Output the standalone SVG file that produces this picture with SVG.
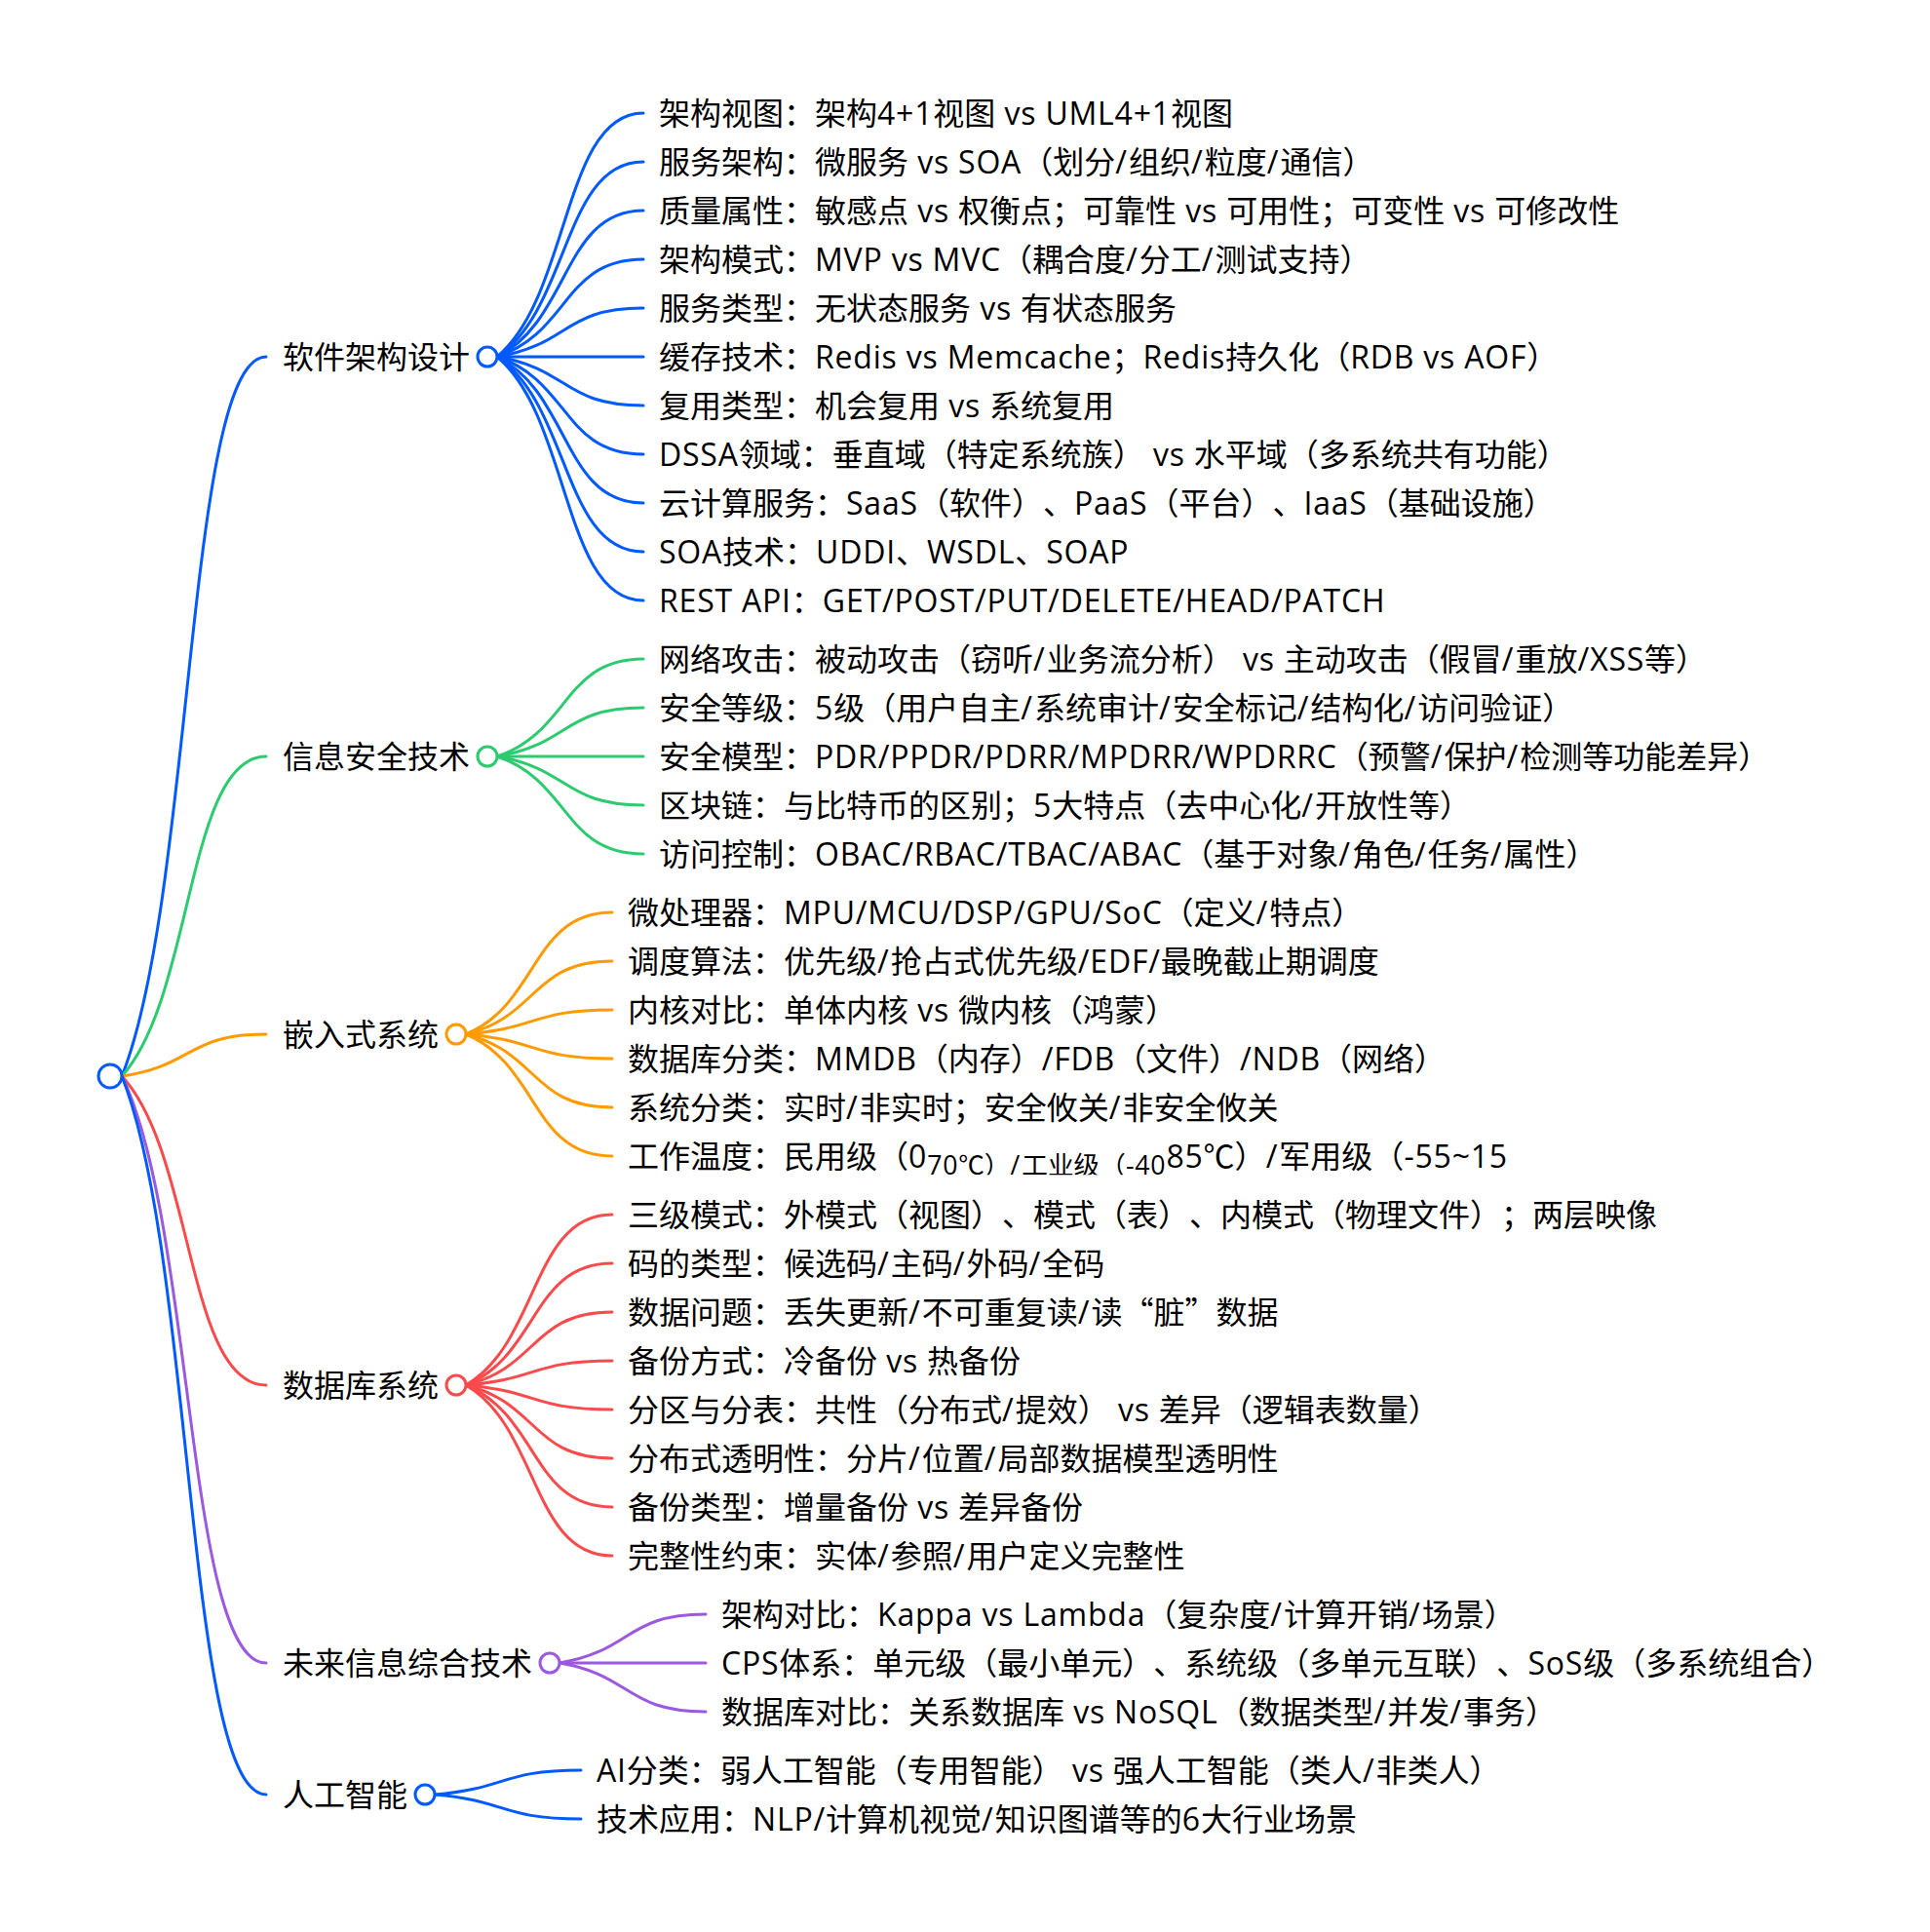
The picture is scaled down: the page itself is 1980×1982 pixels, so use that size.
<svg xmlns="http://www.w3.org/2000/svg" width="1980" height="1982" viewBox="0 0 1980 1982">
<style>
  .t { font-family: 'Open Sans', 'Noto Sans CJK SC', sans-serif; font-size: 32px; fill: #000; text-spacing-trim: space-all; }
  .e { letter-spacing: 0.8px; }
  .s { letter-spacing: 2px; }
  .q { font-family: 'Noto Sans CJK SC', sans-serif; font-feature-settings: 'fwid' 1; }
  .l { fill: none; stroke-width: 3; stroke-linecap: round; }
  .c { fill: #fff; stroke-width: 3; }
  .blue { stroke: #005AFF; }
  .green { stroke: #2DCB70; }
  .orange { stroke: #FF9A00; }
  .red { stroke: #F94A4C; }
  .purple { stroke: #9B59E0; }
</style>
<defs>
  <clipPath id="clipTemp"><rect x="600" y="1150" width="1100" height="55.2"/></clipPath>
</defs>
<rect width="1980" height="1982" fill="#fff"/>

<g id="connectors">
  <path class="l blue" d="M125 1104 C199 919.5 191.6 366 273 366"/>
  <path class="l green" d="M125 1104 C199 1022 191.6 776 273 776"/>
  <path class="l orange" d="M125 1104 C199 1093.3 191.6 1061 273 1061"/>
  <path class="l red" d="M125 1104 C199 1183.3 191.6 1421 273 1421"/>
  <path class="l purple" d="M125 1104 C199 1254.5 191.6 1706 273 1706"/>
  <path class="l blue" d="M125 1104 C199 1288.3 191.6 1841 273 1841"/>
  <path class="l blue" d="M510 366 C585 303.5 577.5 116 660 116"/>
  <path class="l blue" d="M510 366 C585 316 577.5 166 660 166"/>
  <path class="l blue" d="M510 366 C585 328.5 577.5 216 660 216"/>
  <path class="l blue" d="M510 366 C585 341 577.5 266 660 266"/>
  <path class="l blue" d="M510 366 C585 353.5 577.5 316 660 316"/>
  <path class="l blue" d="M510 366 L660 366"/>
  <path class="l blue" d="M510 366 C585 378.5 577.5 416 660 416"/>
  <path class="l blue" d="M510 366 C585 391 577.5 466 660 466"/>
  <path class="l blue" d="M510 366 C585 403.5 577.5 516 660 516"/>
  <path class="l blue" d="M510 366 C585 416 577.5 566 660 566"/>
  <path class="l blue" d="M510 366 C585 428.5 577.5 616 660 616"/>
  <path class="l green" d="M510 776 C585 751 577.5 676 660 676"/>
  <path class="l green" d="M510 776 C585 763.5 577.5 726 660 726"/>
  <path class="l green" d="M510 776 L660 776"/>
  <path class="l green" d="M510 776 C585 788.5 577.5 826 660 826"/>
  <path class="l green" d="M510 776 C585 801 577.5 876 660 876"/>
  <path class="l orange" d="M478 1061 C553 1029.8 545.5 936 628 936"/>
  <path class="l orange" d="M478 1061 C553 1042.3 545.5 986 628 986"/>
  <path class="l orange" d="M478 1061 C553 1054.8 545.5 1036 628 1036"/>
  <path class="l orange" d="M478 1061 C553 1067.3 545.5 1086 628 1086"/>
  <path class="l orange" d="M478 1061 C553 1079.8 545.5 1136 628 1136"/>
  <path class="l orange" d="M478 1061 C553 1092.3 545.5 1186 628 1186"/>
  <path class="l red" d="M478 1421 C553 1377.3 545.5 1246 628 1246"/>
  <path class="l red" d="M478 1421 C553 1389.8 545.5 1296 628 1296"/>
  <path class="l red" d="M478 1421 C553 1402.3 545.5 1346 628 1346"/>
  <path class="l red" d="M478 1421 C553 1414.8 545.5 1396 628 1396"/>
  <path class="l red" d="M478 1421 C553 1427.3 545.5 1446 628 1446"/>
  <path class="l red" d="M478 1421 C553 1439.8 545.5 1496 628 1496"/>
  <path class="l red" d="M478 1421 C553 1452.3 545.5 1546 628 1546"/>
  <path class="l red" d="M478 1421 C553 1464.8 545.5 1596 628 1596"/>
  <path class="l purple" d="M574 1706 C649 1693.5 641.5 1656 724 1656"/>
  <path class="l purple" d="M574 1706 L724 1706"/>
  <path class="l purple" d="M574 1706 C649 1718.5 641.5 1756 724 1756"/>
  <path class="l blue" d="M446 1841 C521 1834.8 513.5 1816 596 1816"/>
  <path class="l blue" d="M446 1841 C521 1847.3 513.5 1866 596 1866"/>
</g>

<g id="root"><circle class="c blue" cx="113" cy="1104" r="12"/></g>

<g id="n-software">
  <text class="t" x="290" y="377.5">软件架构设计</text>
  <circle class="c blue" cx="500" cy="366" r="10"/>
</g>
<g id="n-software-1"><text class="t" x="676" y="127.5">架构视图：架构<tspan class="e">4+1</tspan>视图<tspan class="e"> vs UML4+1</tspan>视图</text></g>
<g id="n-software-2"><text class="t" x="676" y="177.5">服务架构：微服务<tspan class="e"> vs SOA</tspan>（划分<tspan class="s">/</tspan>组织<tspan class="s">/</tspan>粒度<tspan class="s">/</tspan>通信）</text></g>
<g id="n-software-3"><text class="t" x="676" y="227.5">质量属性：敏感点<tspan class="e"> vs </tspan>权衡点；可靠性<tspan class="e"> vs </tspan>可用性；可变性<tspan class="e"> vs </tspan>可修改性</text></g>
<g id="n-software-4"><text class="t" x="676" y="277.5">架构模式：<tspan class="e">MVP vs MVC</tspan>（耦合度<tspan class="s">/</tspan>分工<tspan class="s">/</tspan>测试支持）</text></g>
<g id="n-software-5"><text class="t" x="676" y="327.5">服务类型：无状态服务<tspan class="e"> vs </tspan>有状态服务</text></g>
<g id="n-software-6"><text class="t" x="676" y="377.5">缓存技术：<tspan class="e">Redis vs Memcache</tspan>；<tspan class="e">Redis</tspan>持久化（<tspan class="e">RDB vs AOF</tspan>）</text></g>
<g id="n-software-7"><text class="t" x="676" y="427.5">复用类型：机会复用<tspan class="e"> vs </tspan>系统复用</text></g>
<g id="n-software-8"><text class="t" x="676" y="477.5"><tspan class="e">DSSA</tspan>领域：垂直域（特定系统族）<tspan class="e"> vs </tspan>水平域（多系统共有功能）</text></g>
<g id="n-software-9"><text class="t" x="676" y="527.5">云计算服务：<tspan class="e">SaaS</tspan>（软件）、<tspan class="e">PaaS</tspan>（平台）、<tspan class="e">IaaS</tspan>（基础设施）</text></g>
<g id="n-software-10"><text class="t" x="676" y="577.5"><tspan class="e">SOA</tspan>技术：<tspan class="e">UDDI</tspan>、<tspan class="e">WSDL</tspan>、<tspan class="e">SOAP</tspan></text></g>
<g id="n-software-11"><text class="t" x="676" y="627.5"><tspan class="e">REST API</tspan>：<tspan class="e">GET/POST/PUT/DELETE/HEAD/PATCH</tspan></text></g>

<g id="n-security">
  <text class="t" x="290" y="787.5">信息安全技术</text>
  <circle class="c green" cx="500" cy="776" r="10"/>
</g>
<g id="n-security-1"><text class="t" x="676" y="687.5">网络攻击：被动攻击（窃听<tspan class="s">/</tspan>业务流分析）<tspan class="e"> vs </tspan>主动攻击（假冒<tspan class="s">/</tspan>重放<tspan class="e">/XSS</tspan>等）</text></g>
<g id="n-security-2"><text class="t" x="676" y="737.5">安全等级：<tspan class="e">5</tspan>级（用户自主<tspan class="s">/</tspan>系统审计<tspan class="s">/</tspan>安全标记<tspan class="s">/</tspan>结构化<tspan class="s">/</tspan>访问验证）</text></g>
<g id="n-security-3"><text class="t" x="676" y="787.5">安全模型：<tspan class="e">PDR/PPDR/PDRR/MPDRR/WPDRRC</tspan>（预警<tspan class="s">/</tspan>保护<tspan class="s">/</tspan>检测等功能差异）</text></g>
<g id="n-security-4"><text class="t" x="676" y="837.5">区块链：与比特币的区别；<tspan class="e">5</tspan>大特点（去中心化<tspan class="s">/</tspan>开放性等）</text></g>
<g id="n-security-5"><text class="t" x="676" y="887.5">访问控制：<tspan class="e">OBAC/RBAC/TBAC/ABAC</tspan>（基于对象<tspan class="s">/</tspan>角色<tspan class="s">/</tspan>任务<tspan class="s">/</tspan>属性）</text></g>

<g id="n-embedded">
  <text class="t" x="290" y="1072.5">嵌入式系统</text>
  <circle class="c orange" cx="468" cy="1061" r="10"/>
</g>
<g id="n-embedded-1"><text class="t" x="644" y="947.5">微处理器：<tspan class="e">MPU/MCU/DSP/GPU/SoC</tspan>（定义<tspan class="s">/</tspan>特点）</text></g>
<g id="n-embedded-2"><text class="t" x="644" y="997.5">调度算法：优先级<tspan class="s">/</tspan>抢占式优先级<tspan class="e">/EDF/</tspan>最晚截止期调度</text></g>
<g id="n-embedded-3"><text class="t" x="644" y="1047.5">内核对比：单体内核<tspan class="e"> vs </tspan>微内核（鸿蒙）</text></g>
<g id="n-embedded-4"><text class="t" x="644" y="1097.5">数据库分类：<tspan class="e">MMDB</tspan>（内存）<tspan class="e">/FDB</tspan>（文件）<tspan class="e">/NDB</tspan>（网络）</text></g>
<g id="n-embedded-5"><text class="t" x="644" y="1147.5">系统分类：实时<tspan class="s">/</tspan>非实时；安全攸关<tspan class="s">/</tspan>非安全攸关</text></g>
<g id="n-embedded-6"><text class="t" x="644" y="1197.5" clip-path="url(#clipTemp)">工作温度：民用级（<tspan class="e">0</tspan><tspan font-size="26.67" dy="7.4"><tspan class="e">70</tspan>℃）<tspan class="s">/</tspan>工业级（<tspan class="e">-40</tspan></tspan><tspan dy="-7.4" class="e">85</tspan>℃）<tspan class="s">/</tspan>军用级（<tspan class="e">-55~15</tspan></text></g>

<g id="n-database">
  <text class="t" x="290" y="1432.5">数据库系统</text>
  <circle class="c red" cx="468" cy="1421" r="10"/>
</g>
<g id="n-database-1"><text class="t" x="644" y="1257.5">三级模式：外模式（视图）、模式（表）、内模式（物理文件）；两层映像</text></g>
<g id="n-database-2"><text class="t" x="644" y="1307.5">码的类型：候选码<tspan class="s">/</tspan>主码<tspan class="s">/</tspan>外码<tspan class="s">/</tspan>全码</text></g>
<g id="n-database-3"><text class="t" x="644" y="1357.5">数据问题：丢失更新<tspan class="s">/</tspan>不可重复读<tspan class="s">/</tspan>读<tspan class="q">“</tspan>脏<tspan class="q">”</tspan>数据</text></g>
<g id="n-database-4"><text class="t" x="644" y="1407.5">备份方式：冷备份<tspan class="e"> vs </tspan>热备份</text></g>
<g id="n-database-5"><text class="t" x="644" y="1457.5">分区与分表：共性（分布式<tspan class="s">/</tspan>提效）<tspan class="e"> vs </tspan>差异（逻辑表数量）</text></g>
<g id="n-database-6"><text class="t" x="644" y="1507.5">分布式透明性：分片<tspan class="s">/</tspan>位置<tspan class="s">/</tspan>局部数据模型透明性</text></g>
<g id="n-database-7"><text class="t" x="644" y="1557.5">备份类型：增量备份<tspan class="e"> vs </tspan>差异备份</text></g>
<g id="n-database-8"><text class="t" x="644" y="1607.5">完整性约束：实体<tspan class="s">/</tspan>参照<tspan class="s">/</tspan>用户定义完整性</text></g>

<g id="n-future">
  <text class="t" x="290" y="1717.5">未来信息综合技术</text>
  <circle class="c purple" cx="564" cy="1706" r="10"/>
</g>
<g id="n-future-1"><text class="t" x="740" y="1667.5">架构对比：<tspan class="e">Kappa vs Lambda</tspan>（复杂度<tspan class="s">/</tspan>计算开销<tspan class="s">/</tspan>场景）</text></g>
<g id="n-future-2"><text class="t" x="740" y="1717.5"><tspan class="e">CPS</tspan>体系：单元级（最小单元）、系统级（多单元互联）、<tspan class="e">SoS</tspan>级（多系统组合）</text></g>
<g id="n-future-3"><text class="t" x="740" y="1767.5">数据库对比：关系数据库<tspan class="e"> vs NoSQL</tspan>（数据类型<tspan class="s">/</tspan>并发<tspan class="s">/</tspan>事务）</text></g>

<g id="n-ai">
  <text class="t" x="290" y="1852.5">人工智能</text>
  <circle class="c blue" cx="436" cy="1841" r="10"/>
</g>
<g id="n-ai-1"><text class="t" x="612" y="1827.5"><tspan class="e">AI</tspan>分类：弱人工智能（专用智能）<tspan class="e"> vs </tspan>强人工智能（类人<tspan class="s">/</tspan>非类人）</text></g>
<g id="n-ai-2"><text class="t" x="612" y="1877.5">技术应用：<tspan class="e">NLP/</tspan>计算机视觉<tspan class="s">/</tspan>知识图谱等的<tspan class="e">6</tspan>大行业场景</text></g>
</svg>
